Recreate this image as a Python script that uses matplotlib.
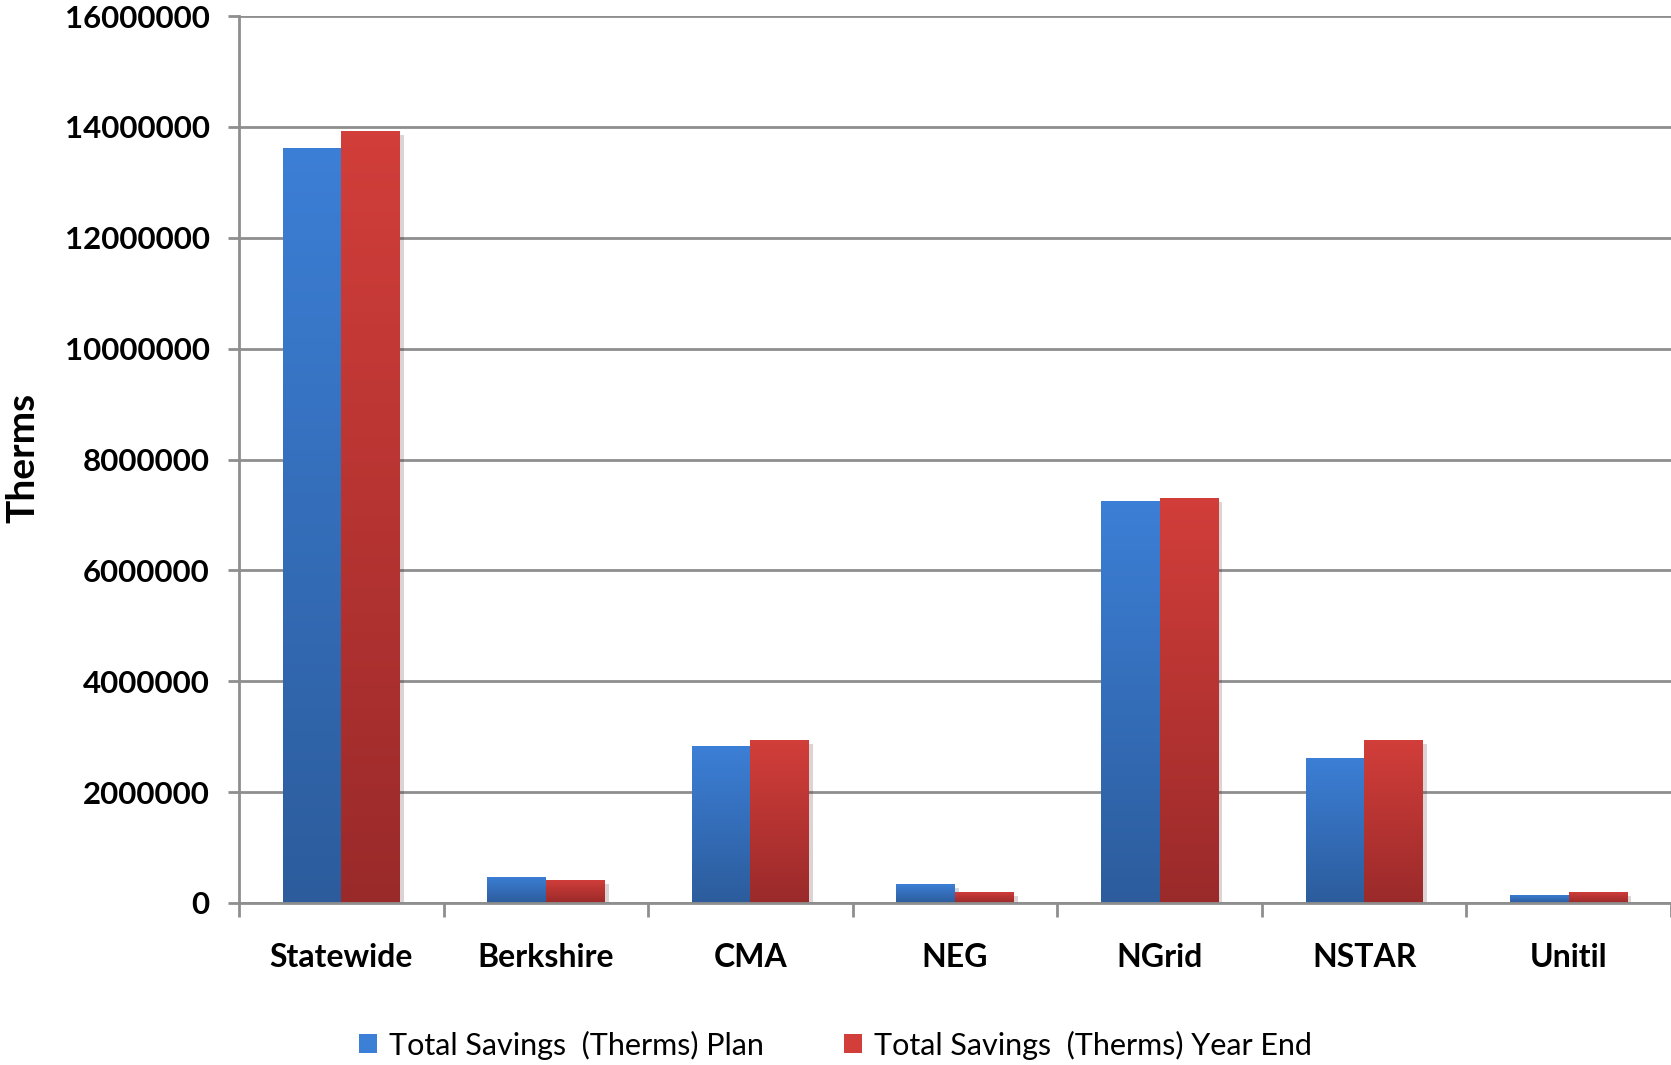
import matplotlib.pyplot as plt
import numpy as np
from matplotlib.colors import LinearSegmentedColormap
from matplotlib.patches import Patch
import matplotlib.patheffects as pe

categories = ["Statewide", "Berkshire", "CMA", "NEG", "NGrid", "NSTAR", "Unitil"]
plan = [13610000, 470000, 2830000, 340000, 7250000, 2620000, 150000]
year_end = [13930000, 420000, 2940000, 200000, 7300000, 2940000, 200000]
series_names = ["Total Savings  (Therms) Plan", "Total Savings  (Therms) Year End"]
y_ticks = [0, 2000000, 4000000, 6000000, 8000000, 10000000, 12000000, 14000000, 16000000]

plt.rcParams["font.family"] = ["Lato", "DejaVu Sans"]

BLUE = ("#2c5c9c", "#3c7fd6")
RED = ("#9a2a2a", "#d23e3a")
GRID = "#8e8e8e"

fig = plt.figure(figsize=(16.71, 10.65), dpi=100)
ax = fig.add_axes([239 / 1671, 1 - 903 / 1065, 1 - 239 / 1671, (903 - 16) / 1065])

x = np.arange(len(categories))
width = 0.286
gradient = np.linspace(0, 1, 256).reshape(-1, 1)

for values, offset, (low, high) in [(plan, -width / 2, BLUE), (year_end, width / 2, RED)]:
    bars = ax.bar(x + offset, values, width, color=high, zorder=3, linewidth=0)
    cmap = LinearSegmentedColormap.from_list("grad", [low, high])
    for bar in bars:
        bar.set_path_effects([pe.SimplePatchShadow(offset=(3, -3), alpha=0.18), pe.Normal()])
        x0, y0 = bar.get_x(), bar.get_y()
        im = ax.imshow(gradient, cmap=cmap, origin="lower", aspect="auto",
                       interpolation="bicubic",
                       extent=(x0, x0 + bar.get_width(), y0, y0 + bar.get_height()),
                       zorder=4)
        im.set_clip_path(bar)

ax.set_xlim(-0.5, len(categories) - 0.5)
ax.set_ylim(0, 16000000)
ax.set_yticks(y_ticks)
ax.set_yticklabels([f"{v:d}" for v in y_ticks], fontsize=22.5, fontweight="bold")
ax.set_xticks(x)
ax.set_xticklabels(categories, fontsize=23, fontweight="bold")
ax.set_xticks(np.arange(len(categories) + 1) - 0.5, minor=True)

ax.tick_params(axis="y", length=8, width=2, color=GRID, pad=13)
ax.tick_params(axis="x", which="major", length=0, pad=29)
ax.tick_params(axis="x", which="minor", length=10, width=2, color=GRID)

ax.grid(axis="y", color=GRID, linewidth=2, zorder=0)
ax.set_axisbelow(True)
for side in ["top", "right"]:
    ax.spines[side].set_visible(False)
for side in ["left", "bottom"]:
    ax.spines[side].set_color(GRID)
    ax.spines[side].set_linewidth(2)
    ax.spines[side].set_zorder(5)

fig.text(23 / 1671, 1 - 458 / 1065, "Therms", rotation=90, ha="center", va="center",
         fontsize=28, fontweight="bold")

handles = [Patch(facecolor=BLUE[1]), Patch(facecolor=RED[1])]
fig.legend(handles, series_names, loc="center", bbox_to_anchor=(0.5, 1 - 1045 / 1065),
           ncol=2, frameon=False, fontsize=22, handlelength=0.6, handleheight=0.6,
           handletextpad=0.4, columnspacing=2.6)

fig.savefig("out.png", dpi=100)
